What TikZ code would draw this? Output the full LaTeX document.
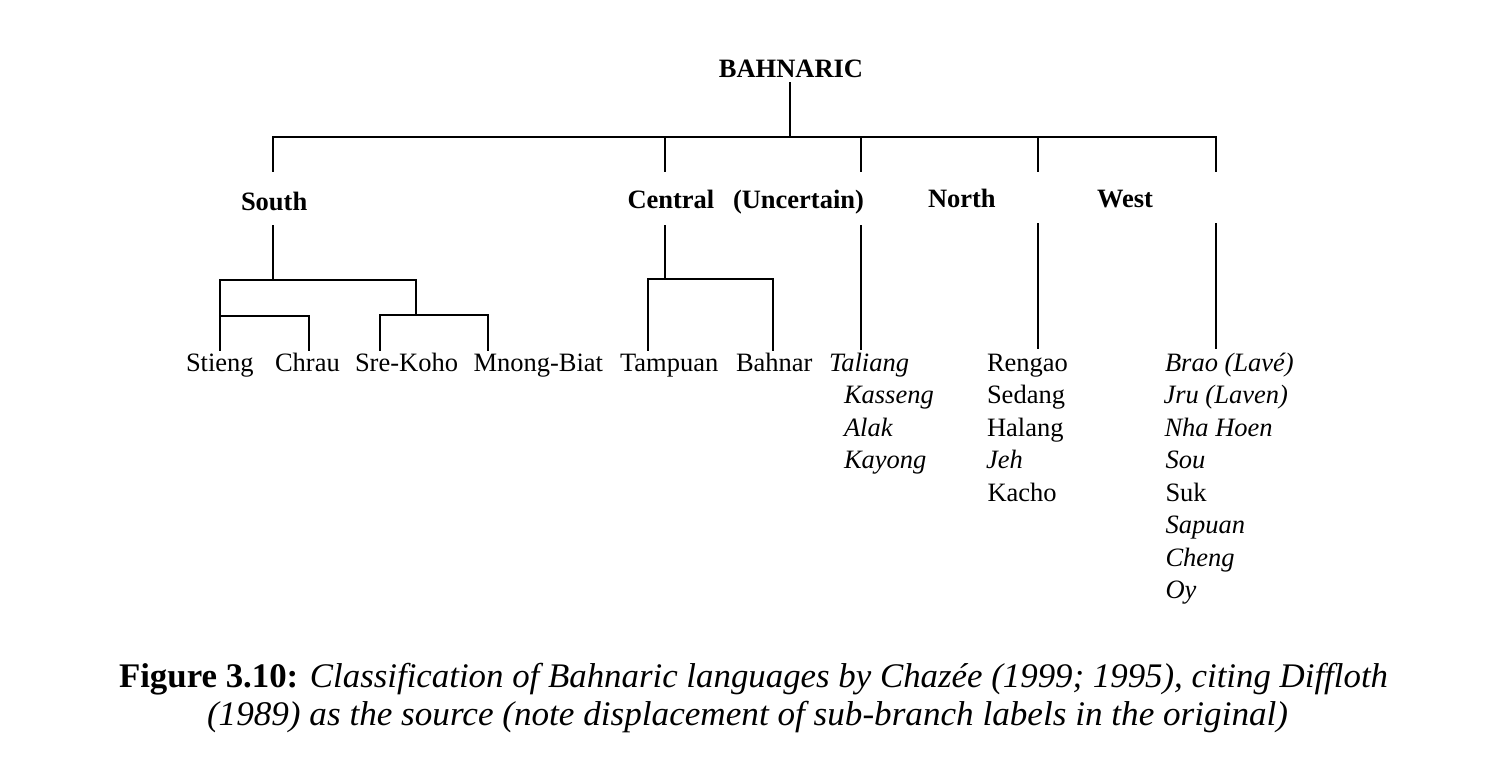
\documentclass[tikz,border=0pt]{standalone}
\usepackage{fontspec}
\setmainfont{Liberation Serif}
\usepackage{graphicx}
\begin{document}
\begin{tikzpicture}[x=1pt,y=-1pt,
  lbl/.style={inner sep=0pt, outer sep=0pt, anchor=base west, font=\fontsize{26.5}{32}\selectfont},
  head/.style={lbl, font=\fontsize{26.5}{32}\selectfont\bfseries},
  it/.style={lbl, font=\fontsize{26.5}{32}\selectfont\itshape},
  captext/.style={inner sep=0pt, outer sep=0pt, anchor=base west, font=\fontsize{34.5}{40}\selectfont},
  edge/.style={line width=1.5pt, line cap=rect}]
\fill[white] (0,0) rectangle (1492,772);
\useasboundingbox (0,0) rectangle (1492,772);

% ---- labels ----
\node[head, anchor=base] (root) at (791,77) {BAHNARIC};
\node[head] (south) at (241,210) {South};
\node[head] (central) at (627.5,208) {Central};
\node[head] (uncert) at (733,208) {(Uncertain)};
\node[head] (north) at (928,207) {North};
\node[head] (west) at (1097,207) {West};

\node[lbl] (stieng) at (186,371) {Stieng};
\node[lbl] (chrau) at (275,371) {Chrau};
\node[lbl] (srekoho) at (355,371) {Sre-Koho};
\node[lbl] (mnong) at (473.5,371) {Mnong-Biat};
\node[lbl] (tampuan) at (620,371) {Tampuan};
\node[lbl] (bahnar) at (736,371) {Bahnar};

\node[it] (taliang) at (829,371) {Taliang};
\node[it] (kasseng) at (844,403.5) {Kasseng};
\node[it] (alak) at (844,436) {Alak};
\node[it] (kayong) at (844,468.5) {Kayong};

\node[lbl] (rengao) at (987,371) {Rengao};
\node[lbl] (sedang) at (987,403.5) {Sedang};
\node[lbl] (halang) at (987,436) {Halang};
\node[it] (jeh) at (986,468.5) {Jeh};
\node[lbl] (kacho) at (987.5,501) {Kacho};

\node[it] (brao) at (1165,371) {Brao (Lavé)};
\node[it] (jru) at (1163.5,403.5) {Jru (Laven)};
\node[it] (nhahoen) at (1164.5,436) {Nha Hoen};
\node[it] (sou) at (1165.5,468.5) {Sou};
\node[lbl] (suk) at (1165.5,501) {Suk};
\node[it] (sapuan) at (1165.5,533.5) {Sapuan};
\node[it] (cheng) at (1165.5,566) {Cheng};
\node[it] (oy) at (1165.5,598.5) {Oy};

% ---- caption ----
\node[captext] (cap1) at (119,687) {\resizebox{1269pt}{\height}{\textbf{Figure 3.10:} \textit{Classification of Bahnaric languages by Chazée (1999; 1995), citing Diffloth}}};
\node[captext] (cap2) at (207,725) {\resizebox{1081pt}{\height}{\textit{(1989) as the source (note displacement of sub-branch labels in the original)}}};

% ---- junction coordinates ----
\coordinate (r0) at (790,83);
\coordinate (r1) at (790,137);
\coordinate (bS) at (273,137);
\coordinate (bC) at (665,137);
\coordinate (bU) at (861,137);
\coordinate (bN) at (1038,137);
\coordinate (bW) at (1216,137);
\coordinate (tS) at (273,171);
\coordinate (tC) at (665,171);
\coordinate (tU) at (861,171);
\coordinate (tN) at (1038,171);
\coordinate (tW) at (1216,171);

\coordinate (sS) at (273,226);
\coordinate (sS1) at (273,280);
\coordinate (sL) at (220,280);
\coordinate (sR) at (416,280);
\coordinate (sL1) at (220,316);
\coordinate (sL2) at (309,316);
\coordinate (sR1) at (416,315);
\coordinate (sR2) at (380,315);
\coordinate (sR3) at (488,315);
\coordinate (eSt) at (220,350);
\coordinate (eCh) at (309,350);
\coordinate (eSr) at (380,350);
\coordinate (eMn) at (488,350);

\coordinate (sC) at (665,226);
\coordinate (sC1) at (665,279);
\coordinate (cL) at (648,279);
\coordinate (cR) at (773,279);
\coordinate (eTa) at (648,350);
\coordinate (eBa) at (773,350);

\coordinate (sU) at (861,226);
\coordinate (eU) at (861,349);
\coordinate (sN) at (1038,224);
\coordinate (eN) at (1038,348);
\coordinate (sW) at (1216,224);
\coordinate (eW) at (1216,348);

% ---- connectors ----
\draw[edge] (r0) -- (r1);
\draw[edge] (bS) -- (bW);
\foreach \a/\b in {bS/tS, bC/tC, bU/tU, bN/tN, bW/tW}
  \draw[edge] (\a) -- (\b);

\draw[edge] (sS) -- (sS1);
\draw[edge] (sL) -- (sR);
\draw[edge] (sL) -- (eSt);
\draw[edge] (sL1) -- (sL2) -- (eCh);
\draw[edge] (sR) -- (sR1);
\draw[edge] (eSr) -- (sR2) -- (sR3) -- (eMn);

\draw[edge] (sC) -- (sC1);
\draw[edge] (eTa) -- (cL) -- (cR) -- (eBa);

\draw[edge] (sU) -- (eU);
\draw[edge] (sN) -- (eN);
\draw[edge] (sW) -- (eW);
\end{tikzpicture}
\end{document}
